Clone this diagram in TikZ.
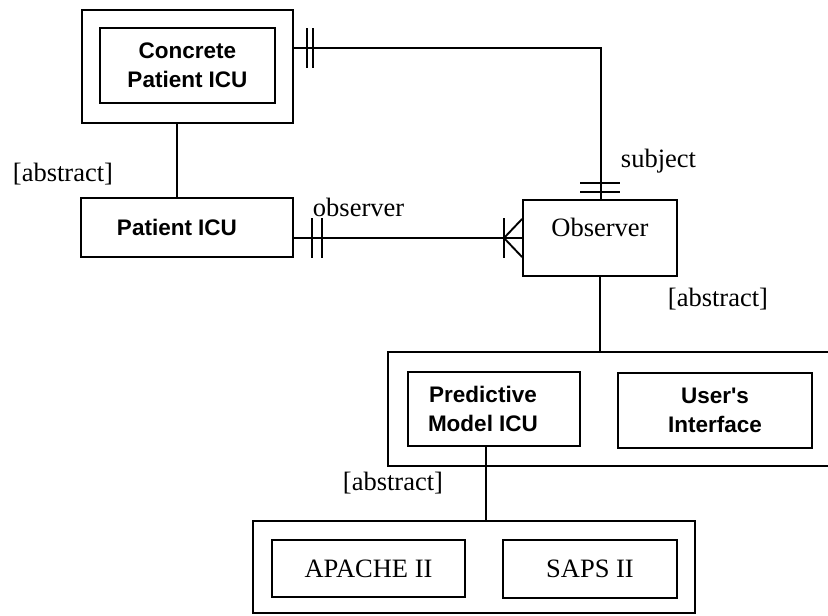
\documentclass[tikz,border=0pt]{standalone}
\usepackage{fontspec}
\setmainfont{Liberation Serif}
\newfontfamily\bsans{Liberation Sans}
\usetikzlibrary{calc}
\begin{document}
\begin{tikzpicture}[x=1pt,y=-1pt, line width=1.9pt,
  box/.style={draw, rectangle, inner sep=0pt, line width=1.9pt},
  sanslbl/.style={font=\bsans\bfseries\fontsize{22.5}{29}\selectfont, align=center},
  seriflbl/.style={font=\fontsize{26.5}{30}\selectfont},
  freelbl/.style={seriflbl, anchor=base west, inner sep=0pt},
  conn/.style={line width=1.9pt}]
\useasboundingbox (0,0) rectangle (828,616);

% boxes
\node[box, minimum width=211pt, minimum height=113pt] (concOuter) at (187.5,66.5) {};
\node[box, sanslbl, minimum width=175pt, minimum height=75pt] (concInner) at (187.5,65.5) {Concrete\\Patient ICU};
\node[box, sanslbl, minimum width=212pt, minimum height=59pt] (patient) at (187,227.5) {Patient ICU\hspace*{20pt}};
\node[box, seriflbl, minimum width=154pt, minimum height=76pt, text height=18pt, text depth=22pt] (observer) at (600,238) {Observer};

\draw[conn] (828,352) -- (388,352) -- (388,466) -- (828,466);
\coordinate (contTop) at (600,352);
\node[box, sanslbl, minimum width=172pt, minimum height=74pt] (predictive) at (494,409) {Predictive\hspace*{22pt}\\Model ICU\hspace*{22pt}};
\node[box, sanslbl, minimum width=194pt, minimum height=75pt] (users) at (715,410.5) {User's\\Interface};

\node[box, minimum width=442pt, minimum height=92pt] (apacheCont) at (474,567) {};
\node[box, seriflbl, minimum width=193pt, minimum height=57pt] (apache) at (368.5,568.5) {APACHE II};
\node[box, seriflbl, minimum width=174pt, minimum height=58pt] (saps) at (590,569) {SAPS II};

% connectors
\coordinate (cx1) at (177,0);
\draw[conn] (concOuter.south -| cx1) -- (patient.north -| cx1);

\coordinate (sj) at (601,48);
\draw[conn] (concOuter.east |- sj) -- (sj) -- (sj |- observer.north);
\draw[conn] (307,28) -- (307,68);
\draw[conn] (313,28) -- (313,68);
\draw[conn] (580,183) -- (620,183);
\draw[conn] (580,192) -- (620,192);

\draw[conn] (patient.east |- observer.west) -- (observer.west);
\draw[conn] (312,218) -- (312,258);
\draw[conn] (322,218) -- (322,258);
\draw[conn] (504,218) -- (504,258);
\draw[conn] ($(observer.west)+(0,-19)$) -- (504,238) -- ($(observer.west)+(0,19)$);

\draw[conn] (observer.south) -- (contTop);

\coordinate (cx3) at (486,0);
\draw[conn] (predictive.south -| cx3) -- (apacheCont.north -| cx3);

% labels
\node[freelbl] (abs1) at (12,181) {[abstract]};
\node[freelbl] (obsLbl) at (312,216) {observer};
\node[freelbl] (subjLbl) at (620,167) {subject};
\node[freelbl] (abs2) at (667,306) {[abstract]};
\node[freelbl] (abs3) at (342,490) {[abstract]};
\end{tikzpicture}
\end{document}
